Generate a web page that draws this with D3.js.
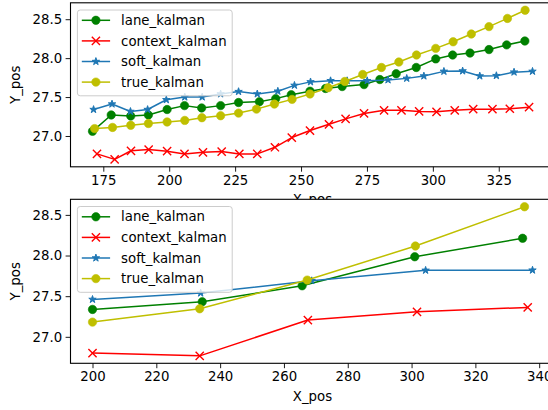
<!DOCTYPE html>
<html>
<head>
<meta charset="utf-8">
<script src="https://cdn.jsdelivr.net/npm/d3@7"></script>
<style>
  html, body { margin: 0; padding: 0; background: #fff; overflow: hidden; }
  svg { display: block; font-family: "DejaVu Sans", sans-serif; }
  text { fill: #000; }
</style>
</head>
<body>
<svg id="chart" width="548" height="410"></svg>
<script>
// ---- Series names and colours -------------------------------------------
const seriesNames = ["lane_kalman", "context_kalman", "soft_kalman", "true_kalman"];

// ---- Upper panel: dense track -------------------------------------------
const laneX1 = [170.9, 178.0, 185.4, 192.1, 199.2, 205.8, 212.3, 219.5, 226.3, 234.2, 240.4, 246.3, 253.4,
                259.3, 265.6, 273.9, 279.9, 286.1, 293.7, 301.1, 307.5, 314.1, 321.3, 328.0, 334.9];
const laneY1 = [27.06, 27.27, 27.256, 27.27, 27.34, 27.39, 27.36, 27.39, 27.43, 27.44, 27.48, 27.53, 27.575,
                27.61, 27.635, 27.66, 27.725, 27.80, 27.88, 27.99, 28.04, 28.065, 28.11, 28.17, 28.22];

const contextX1 = [172.6, 179.3, 185.5, 192.2, 199.2, 205.8, 212.8, 219.9, 226.6, 233.4, 240.1, 246.5, 253.4,
                   260.6, 266.9, 273.9, 281.5, 288.1, 294.8, 301.4, 308.3, 315.3, 322.6, 329.2, 336.5];
const contextY1 = [26.77, 26.70, 26.81, 26.826, 26.805, 26.77, 26.79, 26.80, 26.77, 26.77, 26.855, 26.98, 27.07,
                   27.15, 27.22, 27.29, 27.33, 27.33, 27.315, 27.31, 27.33, 27.345, 27.345, 27.35, 27.37];

const softX1 = [171.3, 178.3, 185.3, 191.8, 198.9, 205.9, 212.5, 219.5, 226.3, 233.4, 241.2, 247.5, 253.6,
                261.2, 267.5, 275.1, 283.0, 290.1, 296.6, 304.2, 311.3, 317.8, 324.1, 330.8, 337.8];
const softY1 = [27.34, 27.41, 27.315, 27.34, 27.465, 27.50, 27.50, 27.54, 27.57, 27.54, 27.575, 27.65, 27.695,
                27.71, 27.71, 27.71, 27.72, 27.74, 27.77, 27.83, 27.835, 27.77, 27.775, 27.82, 27.83];

const trueX1 = [171.7, 178.5, 185.4, 192.1, 199.2, 205.9, 212.4, 219.5, 226.3, 233.1, 239.9, 246.6, 253.4,
                260.3, 266.6, 273.4, 280.5, 287.1, 293.8, 301.1, 307.7, 314.6, 321.3, 328.3, 335.0];
const trueY1 = [27.095, 27.11, 27.137, 27.16, 27.18, 27.20, 27.235, 27.26, 27.294, 27.345, 27.41, 27.47, 27.54,
                27.62, 27.70, 27.79, 27.88, 27.95, 28.04, 28.125, 28.21, 28.31, 28.405, 28.51, 28.615];

// ---- Lower panel: sparse track ------------------------------------------
const laneX2 = [200, 234.4, 265.7, 301.0, 334.8];
const laneY2 = [27.337, 27.431, 27.628, 27.985, 28.212];
const contextX2 = [200, 233.6, 267.5, 301.7, 336.4];
const contextY2 = [26.80, 26.766, 27.206, 27.308, 27.362];
const softX2 = [200, 233.9, 268.7, 304.4, 337.9];
const softY2 = [27.46, 27.538, 27.69, 27.818, 27.82];
const trueX2 = [200, 233.6, 267.3, 301.2, 335.4];
const trueY2 = [27.181, 27.345, 27.698, 28.117, 28.60];

// ---- Tick values ---------------------------------------------------------
const xTicks1 = [175, 200, 225, 250, 275, 300, 325];
const xTicks2 = [200, 220, 240, 260, 280, 300, 320, 340];
const yTicks = [27.0, 27.5, 28.0, 28.5];

// ---- Styling ---------------------------------------------------------------
const styles = {
  lane_kalman:    { color: "#008000", marker: "o" },
  context_kalman: { color: "#ff0000", marker: "x" },
  soft_kalman:    { color: "#1f77b4", marker: "*" },
  true_kalman:    { color: "#bfbf00", marker: "o" }
};
const FONT = 13.3;
const AX_LEFT = 70.5, AX_W = 484, AX_H = 164;

const svg = d3.select("#chart");

function padded(vals) {
  const [lo, hi] = d3.extent(vals);
  const m = (hi - lo) * 0.05;
  return [lo - m, hi + m];
}

function drawMarker(g, kind, color) {
  if (kind === "o") {
    g.append("circle").attr("r", 4.2).attr("fill", color).attr("stroke", color).attr("stroke-width", 0.6);
  } else if (kind === "x") {
    const s = 4.1;
    g.append("path").attr("d", `M${-s},${-s}L${s},${s}M${-s},${s}L${s},${-s}`)
      .attr("stroke", color).attr("stroke-width", 1.4).attr("fill", "none");
  } else {
    g.append("path").attr("d", d3.symbol(d3.symbolStar, 17)())
      .attr("fill", color).attr("stroke", color).attr("stroke-width", 1);
  }
}

function panel(top, data, xTicks) {
  const allX = data.flatMap(d => d.x), allY = data.flatMap(d => d.y);
  const x = d3.scaleLinear().domain(padded(allX)).range([AX_LEFT, AX_LEFT + AX_W]);
  const y = d3.scaleLinear().domain(padded(allY)).range([top + AX_H, top]);

  const g = svg.append("g");
  g.append("rect").attr("x", AX_LEFT).attr("y", top).attr("width", AX_W).attr("height", AX_H)
    .attr("fill", "#fff");

  const clipId = "clip" + Math.round(top);
  g.append("clipPath").attr("id", clipId).append("rect")
    .attr("x", AX_LEFT).attr("y", top).attr("width", AX_W).attr("height", AX_H);
  const plot = g.append("g").attr("clip-path", `url(#${clipId})`);

  const line = d3.line().x(p => x(p[0])).y(p => y(p[1]));
  data.forEach(d => {
    const st = styles[d.name];
    const pts = d.x.map((v, i) => [v, d.y[i]]);
    plot.append("path").attr("d", line(pts)).attr("fill", "none")
      .attr("stroke", st.color).attr("stroke-width", 1.5).attr("stroke-linejoin", "round");
    pts.forEach(p => {
      const m = plot.append("g").attr("transform", `translate(${x(p[0])},${y(p[1])})`);
      drawMarker(m, st.marker, st.color);
    });
  });

  // axes
  const xAxis = d3.axisBottom(x).tickValues(xTicks).tickFormat(d3.format("d"))
    .tickSize(4.9).tickPadding(3.5);
  const gx = g.append("g").attr("transform", `translate(0,${top + AX_H})`).call(xAxis);
  const yAxis = d3.axisLeft(y).tickValues(yTicks).tickFormat(d3.format(".1f"))
    .tickSize(4.9).tickPadding(3.5);
  const gy = g.append("g").attr("transform", `translate(${AX_LEFT},0)`).call(yAxis);
  [gx, gy].forEach(a => {
    a.select(".domain").remove();
    a.selectAll("line").attr("stroke", "#000").attr("stroke-width", 0.9);
    a.selectAll("text").attr("font-size", FONT).attr("font-family", "DejaVu Sans").attr("fill", "#000");
  });

  // frame
  g.append("rect").attr("x", AX_LEFT).attr("y", top).attr("width", AX_W).attr("height", AX_H)
    .attr("fill", "none").attr("stroke", "#000").attr("stroke-width", 1.1);

  // axis labels
  g.append("text").attr("x", AX_LEFT + AX_W / 2).attr("y", top + AX_H + 37.5)
    .attr("text-anchor", "middle").attr("font-size", FONT).text("X_pos");
  g.append("text").attr("transform", `translate(20,${top + AX_H / 2}) rotate(-90)`)
    .attr("text-anchor", "middle").attr("font-size", FONT).text("Y_pos");

  // legend
  const lg = g.append("g").attr("transform", `translate(${AX_LEFT + 6.9},${top + 7.2})`);
  const box = lg.append("rect").attr("rx", 2.8).attr("ry", 2.8)
    .attr("fill", "#fff").attr("fill-opacity", 0.8).attr("stroke", "#cccccc").attr("stroke-width", 1);
  let maxW = 0;
  seriesNames.forEach((name, i) => {
    const st = styles[name];
    const cy = 10.3 + i * 20.6;
    lg.append("line").attr("x1", 4.4).attr("x2", 32.7).attr("y1", cy).attr("y2", cy)
      .attr("stroke", st.color).attr("stroke-width", 1.5);
    const m = lg.append("g").attr("transform", `translate(18.5,${cy})`);
    drawMarker(m, st.marker, st.color);
    const t = lg.append("text").attr("x", 43.7).attr("y", cy + 4.6).attr("font-size", FONT).text(name);
    maxW = Math.max(maxW, t.node().getComputedTextLength());
  });
  box.attr("x", 0).attr("y", 0).attr("width", 43.7 + maxW + 5.5).attr("height", 85.8);
}

const names = seriesNames;
panel(2.8, [
  { name: names[0], x: laneX1, y: laneY1 },
  { name: names[1], x: contextX1, y: contextY1 },
  { name: names[2], x: softX1, y: softY1 },
  { name: names[3], x: trueX1, y: trueY1 }
], xTicks1);

panel(199.3, [
  { name: names[0], x: laneX2, y: laneY2 },
  { name: names[1], x: contextX2, y: contextY2 },
  { name: names[2], x: softX2, y: softY2 },
  { name: names[3], x: trueX2, y: trueY2 }
], xTicks2);
</script>
</body>
</html>
